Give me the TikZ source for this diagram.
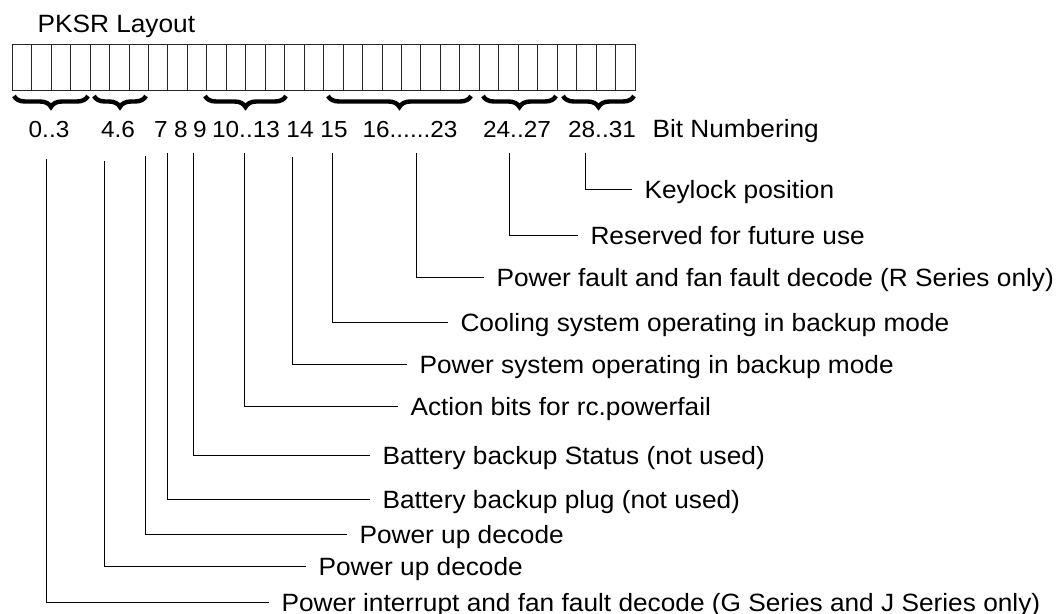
\documentclass[tikz,border=0pt]{standalone}
\usepackage{fontspec}
\setmainfont{Liberation Sans}[FakeStretch=1.05]
\usetikzlibrary{decorations.pathreplacing}

\begin{document}
\begin{tikzpicture}[x=0.5pt,y=-0.5pt,line width=0.5pt,
  font=\fontsize{12.5pt}{14pt}\selectfont,
  lbl/.style={inner sep=0pt,anchor=base},
  num/.style={lbl,font=\fontsize{11.6pt}{13pt}\selectfont},
  desc/.style={anchor=west,inner xsep=6pt,inner ysep=0pt,text height=11pt,text depth=2pt},
  grp/.style={line width=2.2pt,decorate,decoration={brace,mirror,amplitude=5.5pt}}]
  \useasboundingbox (0,0) rectangle (1063,614);
  % titulo y registro de 32 bits
  \node[lbl,anchor=base west] (title) at (37,33) {PKSR Layout};
  \draw[black!85] (12.3,45) rectangle (635,91);
  \foreach \i in {1,...,31}
    \draw[black!85] ({12.3+\i*19.46},45) -- ({12.3+\i*19.46},91);
  % llaves de los grupos
  \foreach \a/\b in {14/88,94/146,205/286,328/471,483/556,563/634}
    \draw[grp] (\a,96) -- (\b,96);
  % numeracion de bits
  \node[num] (n0) at (49,138) {0..3};
  \node[num] (n4) at (118,138) {4.6};
  \node[num] (n7) at (161,138) {7};
  \node[num] (n8) at (181,138) {8};
  \node[num] (n9) at (200,138) {9};
  \node[num] (n10) at (246,138) {10..13};
  \node[num] (n14) at (300,138) {14};
  \node[num] (n15) at (334,138) {15};
  \node[num] (n16) at (410,138) {16......23};
  \node[num] (n24) at (517,138) {24..27};
  \node[num] (n28) at (602,138) {28..31};
  \node[lbl,anchor=base west] (nbits) at (652,138) {Bit Numbering};
  % descripciones con sus lineas
  \foreach \k/\x/\t/\y/\e/\txt in {
      b28/585/153/190/632/{Keylock position},
      b24/509/153/236/578/{Reserved for future use},
      b16/416/153/277.5/484/{Power fault and fan fault decode (R Series only)},
      b15/332/153/322.7/448/{Cooling system operating in backup mode},
      b14/292/157/364/407/{Power system operating in backup mode},
      b10/244/153/406/398/{Action bits for rc.powerfail},
      b9/193/153/455.7/370/{Battery backup Status (not used)},
      b8/167/153/499.3/370/{Battery backup plug (not used)},
      b7/145/156/534/347/{Power up decode},
      b4/104/161/566.7/306/{Power up decode},
      b0/46/159/602/269/{Power interrupt and fan fault decode (G Series and J Series only)}}{
    \coordinate (\k) at (\x,\t);
    \node[desc] (t\k) at (\e,\y) {\txt};
    \draw (\k) |- (t\k.west);
  }
\end{tikzpicture}
\end{document}
